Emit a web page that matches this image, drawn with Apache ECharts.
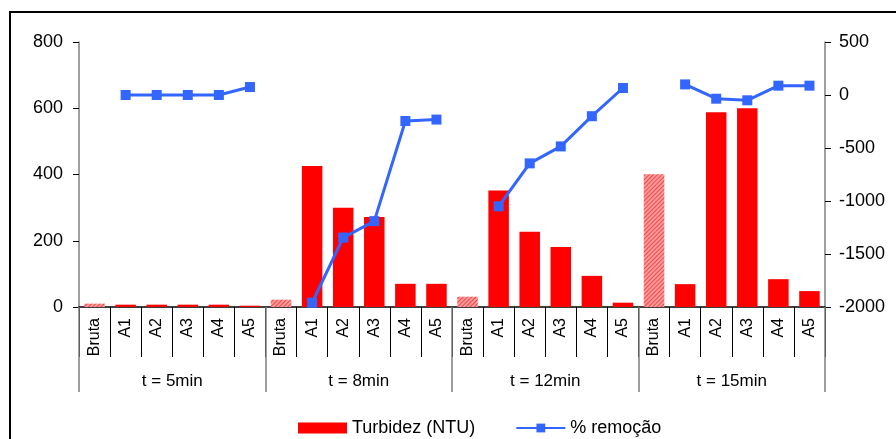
<!DOCTYPE html>
<html><head><meta charset="utf-8">
<script src="https://cdn.jsdelivr.net/npm/echarts@6/dist/echarts.min.js"></script>
<style>html,body{margin:0;padding:0;background:#fff}#c{width:896px;height:439px}</style>
</head><body><div id="c"></div>
<script>
const groups = ['t = 5min', 't = 8min', 't = 12min', 't = 15min'];
const subLabels = ['Bruta', 'A1', 'A2', 'A3', 'A4', 'A5'];
const turbidez = [
  10, 7, 7, 7, 7, 4,
  22, 426, 300, 272, 70, 70,
  31, 352, 227, 181, 94, 13,
  401, 69, 588, 600, 84, 48
];
const remocao = [
  null, 0, 0, 0, 0, 75,
  null, -1960, -1345, -1190, -245, -232,
  null, -1050, -645, -485, -200, 66,
  null, 100, -35, -50, 88, 88
];
const leftTicks = {min: 0, max: 800, interval: 200};
const rightTicks = {min: -2000, max: 500, interval: 500};

const categories = [];
groups.forEach((g, gi) => subLabels.forEach(s => categories.push(s + '|' + gi)));

const font = "'Liberation Sans', Arial, sans-serif";
const barData = turbidez.map((v, i) => {
  if (i % 6 === 0) {
    return {value: v, itemStyle: {color: '#ff9a9a', decal: {symbol: 'rect', symbolSize: 1, dashArrayX: [1, 0], dashArrayY: [1, 2], rotation: -Math.PI / 4, color: 'rgba(230,40,40,0.7)'}}};
  }
  return v;
});

const chart = echarts.init(document.getElementById('c'), null, {renderer: 'canvas'});
chart.setOption({
  animation: false,
  textStyle: {fontFamily: font},
  grid: {left: 79, right: 71, top: 42, bottom: 132, containLabel: false},
  graphic: [{type: 'rect', shape: {x: 10, y: 12, width: 900, height: 440}, style: {fill: 'none', stroke: '#000', lineWidth: 2}, z: 100, silent: true}],
  legend: {
    left: 293, top: 414, itemGap: 40, itemWidth: 49, itemHeight: 11,
    textStyle: {fontFamily: font, fontSize: 18, color: '#000'},
    data: [{name: 'Turbidez (NTU)', icon: 'rect'}, {name: '% remoção'}]
  },
  xAxis: [
    {
      type: 'category', data: categories, position: 'bottom',
      axisLine: {onZero: false, lineStyle: {color: '#000', width: 1.5}},
      axisTick: {show: true, length: 50, interval: 0, lineStyle: {color: '#000', width: 1}},
      axisLabel: {rotate: 90, interval: 0, margin: 11, fontSize: 16, color: '#000', fontFamily: font,
        formatter: v => v.split('|')[0]}
    },
    {
      type: 'category', data: groups, position: 'bottom',
      axisLine: {show: false, onZero: false},
      axisTick: {show: true, length: 85, interval: 0, lineStyle: {color: '#7f7f7f', width: 1.5}},
      axisLabel: {interval: 0, margin: 66, fontSize: 17, color: '#000', fontFamily: font}
    }
  ],
  yAxis: [
    {
      type: 'value', min: leftTicks.min, max: leftTicks.max, interval: leftTicks.interval,
      splitLine: {show: false},
      axisLine: {show: true, lineStyle: {color: '#7f7f7f', width: 1.5}},
      axisTick: {show: true, length: 6, lineStyle: {color: '#000'}},
      axisLabel: {fontSize: 18, color: '#000', margin: 16, fontFamily: font}
    },
    {
      type: 'value', position: 'right', min: rightTicks.min, max: rightTicks.max, interval: rightTicks.interval,
      splitLine: {show: false},
      axisLine: {show: true, lineStyle: {color: '#7f7f7f', width: 1.5}},
      axisTick: {show: true, length: 6, lineStyle: {color: '#000'}},
      axisLabel: {fontSize: 18, color: '#000', margin: 14, fontFamily: font, formatter: v => String(v)}
    }
  ],
  series: [
    {
      name: 'Turbidez (NTU)', type: 'bar', xAxisIndex: 0, yAxisIndex: 0,
      data: barData, barCategoryGap: '34%', itemStyle: {color: '#ff0000'}
    },
    {
      name: '% remoção', type: 'line', xAxisIndex: 0, yAxisIndex: 1,
      data: remocao, connectNulls: false,
      symbol: 'rect', symbolSize: 10,
      lineStyle: {color: '#3366ff', width: 3},
      itemStyle: {color: '#3366ff'}
    }
  ]
});
</script></body></html>
